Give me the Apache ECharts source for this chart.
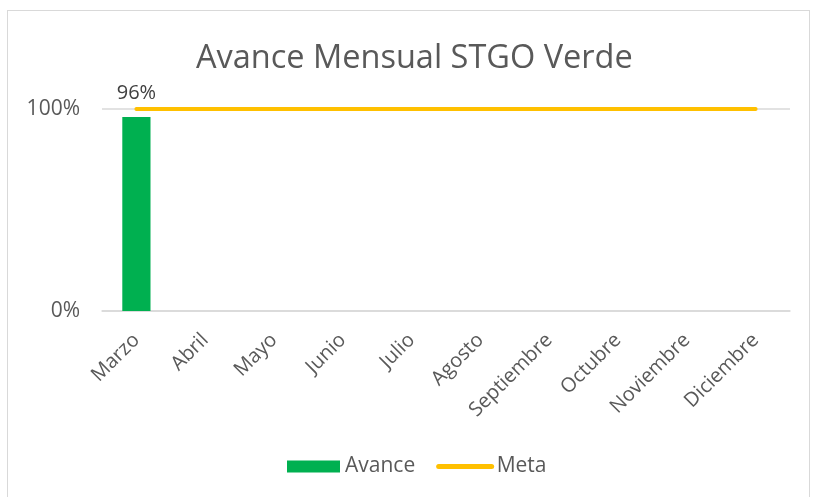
<!DOCTYPE html>
<html>
<head>
<meta charset="utf-8">
<script src="https://cdn.jsdelivr.net/npm/echarts@6/dist/echarts.min.js"></script>
<style>
  html, body { margin: 0; padding: 0; background: #fff; }
  #frame { position: absolute; left: 7px; top: 10px; width: 803px; height: 500px; border: 1px solid #d9d9d9; box-sizing: border-box; }
  #chart { position: absolute; left: 0; top: 0; width: 813px; height: 497px; }
</style>
</head>
<body>
<div id="frame"></div>
<div id="chart"></div>
<script>
const months = ['Marzo', 'Abril', 'Mayo', 'Junio', 'Julio', 'Agosto', 'Septiembre', 'Octubre', 'Noviembre', 'Diciembre']
const avance = [0.96, null, null, null, null, null, null, null, null, null]
const meta = [1, 1, 1, 1, 1, 1, 1, 1, 1, 1]

const font = 'Open Sans, Noto Sans, sans-serif'
const grey = '#595959'

const chart = echarts.init(document.getElementById('chart'))

chart.setOption({
  animation: false,
  textStyle: { fontFamily: font },
  title: {
    text: 'Avance Mensual STGO Verde',
    left: 191,
    top: 37,
    textStyle: { fontSize: 32.5, fontWeight: 'normal', color: grey, fontFamily: font },
  },
  legend: {
    bottom: 15,
    left: 282,
    itemGap: 21,
    itemWidth: 53,
    itemHeight: 12,
    textStyle: { fontSize: 21, color: grey, fontFamily: font },
    data: [
      { name: 'Avance', icon: 'rect' },
      { name: 'Meta', itemStyle: { opacity: 0 }, lineStyle: { width: 5, cap: 'round', color: '#ffc000' } },
    ],
  },
  grid: { left: 102, right: 23, top: 109, bottom: 186, containLabel: false },
  xAxis: {
    type: 'category',
    data: months,
    axisLine: { lineStyle: { color: '#d9d9d9', width: 1.5 } },
    axisTick: { show: false },
    axisLabel: { rotate: 45, fontSize: 20, color: grey, interval: 0, margin: 26, fontFamily: font },
  },
  yAxis: {
    type: 'value',
    min: 0,
    max: 1,
    interval: 1,
    axisLine: { show: false },
    axisTick: { show: false },
    splitLine: { lineStyle: { color: '#d9d9d9', width: 1.5 } },
    axisLabel: {
      fontSize: 21, color: grey, margin: 22, fontFamily: font,
      formatter: (v) => Math.round(v * 100) + '%',
    },
  },
  series: [
    {
      name: 'Avance',
      type: 'bar',
      data: avance,
      barWidth: '41%',
      itemStyle: { color: '#00b050' },
      label: {
        show: true,
        position: 'top',
        distance: 14,
        fontSize: 20,
        color: '#404040',
        fontFamily: font,
        formatter: (p) => Math.round(p.value * 100) + '%',
      },
    },
    {
      name: 'Meta',
      type: 'line',
      data: meta,
      symbol: 'none',
      lineStyle: { color: '#ffc000', width: 4, cap: 'round' },
      itemStyle: { color: '#ffc000' },
    },
  ],
})
</script>
</body>
</html>
